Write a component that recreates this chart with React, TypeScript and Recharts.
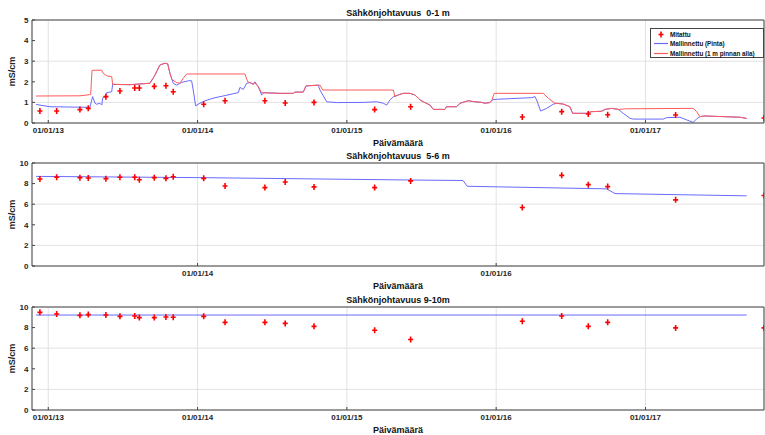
import React from "react"
import { ComposedChart, Line, Scatter, XAxis, YAxis, CartesianGrid, ReferenceLine } from "recharts"

// decimal years
const measuredDates = [2012.944, 2013.056, 2013.212, 2013.268, 2013.386, 2013.48, 2013.579, 2013.61, 2013.71, 2013.788, 2013.837, 2014.041, 2014.184, 2014.451, 2014.587, 2014.78, 2015.186, 2015.427, 2016.175, 2016.439, 2016.617, 2016.747, 2017.202, 2017.794]
const measured01 = [0.58, 0.58, 0.65, 0.71, 1.28, 1.55, 1.7, 1.7, 1.78, 1.81, 1.52, 0.91, 1.08, 1.08, 0.97, 1.0, 0.65, 0.79, 0.29, 0.55, 0.44, 0.4, 0.39, 0.24]
const measured56 = [8.45, 8.61, 8.58, 8.55, 8.48, 8.61, 8.61, 8.38, 8.58, 8.51, 8.67, 8.51, 7.77, 7.61, 8.16, 7.68, 7.61, 8.26, 5.68, 8.8, 7.9, 7.71, 6.42, 6.84]
const measured910 = [9.48, 9.32, 9.19, 9.26, 9.22, 9.09, 9.13, 8.97, 8.97, 9.03, 9.0, 9.09, 8.51, 8.51, 8.41, 8.12, 7.74, 6.84, 8.61, 9.13, 8.12, 8.51, 7.97, 7.97]

const surfaceDates = [2012.918, 2013.011, 2013.279, 2013.297, 2013.313, 2013.324, 2013.346, 2013.358, 2013.364, 2013.38, 2013.391, 2013.425, 2013.431, 2013.547, 2013.681, 2013.715, 2013.748, 2013.782, 2013.8, 2013.815, 2013.837, 2013.86, 2013.894, 2013.938, 2013.96, 2013.971, 2013.987, 2014.016, 2014.05, 2014.117, 2014.184, 2014.25, 2014.273, 2014.284, 2014.306, 2014.329, 2014.351, 2014.373, 2014.384, 2014.407, 2014.429, 2014.445, 2014.552, 2014.641, 2014.652, 2014.708, 2014.726, 2014.808, 2014.82, 2014.865, 2014.932, 2015.11, 2015.2, 2015.244, 2015.267, 2015.289, 2015.311, 2015.344, 2015.378, 2015.423, 2015.456, 2015.49, 2015.523, 2015.557, 2015.579, 2015.657, 2015.668, 2015.735, 2015.758, 2015.813, 2015.858, 2015.903, 2015.925, 2015.958, 2015.974, 2016.003, 2016.238, 2016.26, 2016.271, 2016.298, 2016.338, 2016.382, 2016.405, 2016.449, 2016.494, 2016.512, 2016.606, 2016.64, 2016.707, 2016.729, 2016.774, 2016.818, 2016.851, 2016.896, 2016.918, 2017.119, 2017.142, 2017.231, 2017.276, 2017.32, 2017.343, 2017.365, 2017.398, 2017.633, 2017.678]
const surface01 = [0.9, 0.79, 0.76, 1.28, 0.96, 0.91, 0.96, 0.87, 1.2, 1.28, 1.47, 1.52, 1.87, 1.86, 1.93, 2.33, 2.82, 2.9, 2.87, 2.41, 1.93, 1.84, 1.97, 2.05, 2.05, 1.6, 0.83, 0.96, 1.08, 1.23, 1.33, 1.44, 1.47, 1.73, 1.63, 1.93, 1.96, 1.88, 2.0, 1.76, 1.36, 1.47, 1.44, 1.44, 1.5, 1.5, 1.8, 1.84, 1.6, 1.03, 0.99, 1.0, 1.03, 0.96, 0.87, 1.12, 1.28, 1.36, 1.44, 1.44, 1.36, 1.12, 0.99, 0.87, 0.66, 0.66, 0.79, 0.79, 0.96, 1.08, 1.03, 1.0, 0.96, 0.99, 1.12, 1.15, 1.23, 1.28, 1.12, 0.58, 0.71, 0.91, 0.96, 0.92, 0.79, 0.47, 0.47, 0.55, 0.57, 0.66, 0.71, 0.66, 0.47, 0.23, 0.19, 0.19, 0.26, 0.28, 0.15, 0.03, 0.2, 0.31, 0.34, 0.28, 0.22]

const belowDates = [2012.918, 2013.212, 2013.284, 2013.293, 2013.358, 2013.368, 2013.395, 2013.425, 2013.431, 2013.547, 2013.681, 2013.715, 2013.748, 2013.782, 2013.8, 2013.815, 2013.827, 2013.86, 2013.882, 2013.904, 2013.927, 2014.317, 2014.336, 2014.351, 2014.373, 2014.384, 2014.407, 2014.429, 2014.552, 2014.641, 2014.652, 2014.708, 2014.726, 2014.82, 2014.838, 2015.311, 2015.322, 2015.344, 2015.378, 2015.423, 2015.456, 2015.49, 2015.523, 2015.557, 2015.579, 2015.657, 2015.668, 2015.735, 2015.758, 2015.813, 2015.858, 2015.903, 2015.925, 2015.958, 2015.974, 2015.987, 2016.315, 2016.349, 2016.394, 2016.449, 2016.494, 2016.512, 2016.606, 2016.64, 2016.707, 2016.729, 2016.774, 2016.818, 2016.874, 2017.32, 2017.343, 2017.365, 2017.398, 2017.633, 2017.678]
const below01 = [1.31, 1.32, 1.38, 2.56, 2.56, 2.41, 2.28, 2.25, 1.88, 1.86, 1.93, 2.33, 2.82, 2.9, 2.87, 2.41, 2.12, 1.96, 1.93, 2.17, 2.38, 2.38, 2.0, 1.96, 1.88, 1.95, 1.76, 1.47, 1.44, 1.44, 1.5, 1.5, 1.8, 1.84, 1.6, 1.6, 1.28, 1.36, 1.44, 1.44, 1.36, 1.12, 0.99, 0.87, 0.66, 0.66, 0.79, 0.79, 0.96, 1.08, 1.03, 1.0, 0.96, 0.99, 1.15, 1.44, 1.44, 1.2, 0.96, 0.92, 0.79, 0.47, 0.47, 0.55, 0.57, 0.66, 0.71, 0.66, 0.69, 0.71, 0.55, 0.31, 0.34, 0.28, 0.22]

const model56Dates = [2012.918, 2014.016, 2015.356, 2015.778, 2015.806, 2016.74, 2016.796, 2017.678]
const model56 = [8.7, 8.58, 8.36, 8.3, 7.74, 7.49, 7.03, 6.81]
const model910Dates = [2012.918, 2017.678]
const model910 = [9.22, 9.22]

const yearTicks = [2013, 2014, 2015, 2016, 2017]
const yearTicksMid = [2014, 2016]

const X_MIN = 2012.891
const X_MAX = 2017.794
const BLUE = "#6a6aff"
const RED = "#ff5a5a"
const FONT = "'Liberation Sans', Arial, sans-serif"

const zip = (ts: number[], vs: number[]) => ts.map((t, i) => ({ t, v: vs[i] }))

const Plus = (props: any) => {
  const { cx, cy } = props
  if (cx == null || cy == null) return null
  return (
    <g stroke="#ff0000" strokeWidth={1.6}>
      <line x1={cx - 2.5} y1={cy} x2={cx + 2.5} y2={cy} />
      <line x1={cx} y1={cy - 3} x2={cx} y2={cy + 3} />
    </g>
  )
}

const fmtDate = (t: number) => `01/01/${String(Math.round(t)).slice(2)}`

type PanelProps = {
  top: number
  title: string
  yMax: number
  yTicks: number[]
  xTicks: number[]
  measured: { t: number; v: number }[]
  lines: { data: { t: number; v: number }[]; color: string }[]
}

const textStyle = { fontSize: 9, fontWeight: "bold", color: "#111", fontFamily: FONT, lineHeight: "10px" } as const

const Panel = ({ top, title, yMax, yTicks, xTicks, measured, lines }: PanelProps) => (
  <>
    <div style={{ ...textStyle, position: "absolute", left: 32, width: 732, top: top - 12, textAlign: "center", whiteSpace: "pre" }}>
      {title}
    </div>
    <div style={{ position: "absolute", top: top - 5 }}>
      <ComposedChart width={765} height={125} margin={{ top: 5, right: 1, bottom: 0, left: 0 }}>
        <CartesianGrid stroke="#e2e2e2" />
        <XAxis
          dataKey="t"
          type="number"
          domain={[X_MIN, X_MAX]}
          ticks={xTicks}
          tickFormatter={fmtDate}
          height={17}
          stroke="#444"
          tickSize={-3}
          tickMargin={7}
          tick={{ fontSize: 8, fontWeight: "bold", fill: "#262626", fontFamily: FONT }}
          allowDataOverflow
        />
        <YAxis
          dataKey="v"
          type="number"
          domain={[0, yMax]}
          ticks={yTicks}
          width={32}
          stroke="#444"
          tickSize={-3}
          tickMargin={6.5}
          tick={{ fontSize: 8, fontWeight: "bold", fill: "#262626", fontFamily: FONT }}
          label={{ value: "mS/cm", angle: -90, position: "center", dx: -4, style: { fontSize: 9, fontWeight: "bold", fill: "#262626", fontFamily: FONT } }}
        />
        <ReferenceLine y={yMax} stroke="#444" />
        <ReferenceLine x={X_MAX} stroke="#444" />
        {lines.map((l, i) => (
          <Line key={i} data={l.data} dataKey="v" type="linear" stroke={l.color} strokeWidth={1} dot={false} isAnimationActive={false} />
        ))}
        <Scatter data={measured} dataKey="v" shape={<Plus />} isAnimationActive={false} />
      </ComposedChart>
    </div>
    <div style={{ ...textStyle, position: "absolute", left: 32, width: 732, top: top + 118, textAlign: "center" }}>
      Päivämäärä
    </div>
  </>
)

const LegendBox = () => (
  <div style={{ position: "absolute", left: 650, top: 28, width: 112, height: 28, border: "1px solid #444", background: "#fff", fontFamily: FONT, fontSize: 6.3, fontWeight: "bold", color: "#111" }}>
    {[
      { label: "Mitattu", kind: "marker" },
      { label: "Mallinnettu (Pinta)", kind: BLUE },
      { label: "Mallinnettu (1 m pinnan alla)", kind: RED },
    ].map((e, i) => (
      <div key={i} style={{ position: "absolute", left: 2, top: 0.5 + i * 9.6, height: 9, display: "flex", alignItems: "center", whiteSpace: "nowrap" }}>
        <svg width={16} height={9}>
          {e.kind === "marker" ? <Plus cx={8} cy={4.5} /> : <line x1={1} y1={4.5} x2={15} y2={4.5} stroke={e.kind} strokeWidth={1.2} />}
        </svg>
        <span style={{ marginLeft: 1 }}>{e.label}</span>
      </div>
    ))}
  </div>
)

export default function App() {
  return (
    <div style={{ position: "absolute", left: 0, top: 0, width: 765, height: 435, background: "#fff", overflow: "hidden" }}>
      <Panel
        top={20}
        title={"Sähkönjohtavuus  0-1 m"}
        yMax={5}
        yTicks={[0, 1, 2, 3, 4, 5]}
        xTicks={yearTicks}
        measured={zip(measuredDates, measured01)}
        lines={[
          { data: zip(surfaceDates, surface01), color: BLUE },
          { data: zip(belowDates, below01), color: RED },
        ]}
      />
      <Panel
        top={163}
        title={"Sähkönjohtavuus  5-6 m"}
        yMax={10}
        yTicks={[0, 2, 4, 6, 8, 10]}
        xTicks={yearTicksMid}
        measured={zip(measuredDates, measured56)}
        lines={[{ data: zip(model56Dates, model56), color: BLUE }]}
      />
      <Panel
        top={307}
        title={"Sähkönjohtavuus 9-10m"}
        yMax={10}
        yTicks={[0, 2, 4, 6, 8, 10]}
        xTicks={yearTicks}
        measured={zip(measuredDates, measured910)}
        lines={[{ data: zip(model910Dates, model910), color: BLUE }]}
      />
      <LegendBox />
    </div>
  )
}
